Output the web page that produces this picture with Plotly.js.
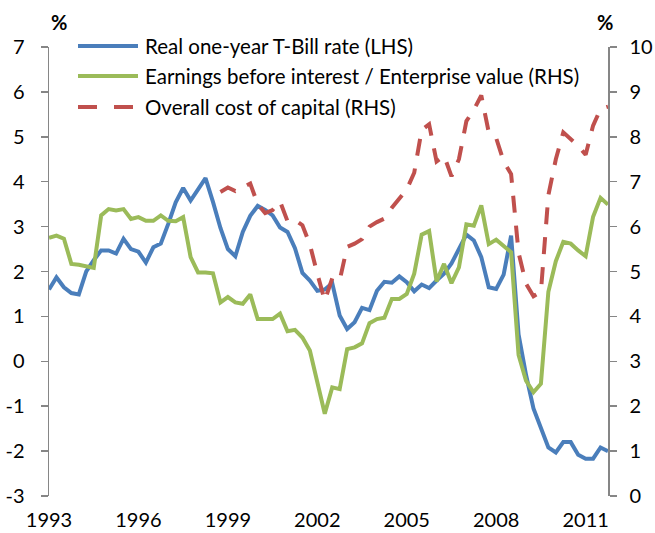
<!DOCTYPE html>
<html>
<head>
<meta charset="utf-8">
<script src="https://cdn.plot.ly/plotly-3.0.1.min.js"></script>
<style>html,body{margin:0;padding:0;background:#fff;}#chart{width:655px;height:533px;}</style>
</head>
<body>
<div id="chart"></div>
<script>
// Quarterly observations, 1993Q1 .. 2011Q4 (decimal years)
const quarters = [
  1993.00, 1993.25, 1993.50, 1993.75, 1994.00, 1994.25, 1994.50, 1994.75,
  1995.00, 1995.25, 1995.50, 1995.75, 1996.00, 1996.25, 1996.50, 1996.75,
  1997.00, 1997.25, 1997.50, 1997.75, 1998.00, 1998.25, 1998.50, 1998.75,
  1999.00, 1999.25, 1999.50, 1999.75, 2000.00, 2000.25, 2000.50, 2000.75,
  2001.00, 2001.25, 2001.50, 2001.75, 2002.00, 2002.25, 2002.50, 2002.75,
  2003.00, 2003.25, 2003.50, 2003.75, 2004.00, 2004.25, 2004.50, 2004.75,
  2005.00, 2005.25, 2005.50, 2005.75, 2006.00, 2006.25, 2006.50, 2006.75,
  2007.00, 2007.25, 2007.50, 2007.75, 2008.00, 2008.25, 2008.50, 2008.75,
  2009.00, 2009.25, 2009.50, 2009.75, 2010.00, 2010.25, 2010.50, 2010.75,
  2011.00, 2011.25, 2011.50, 2011.75
];

// Real one-year T-Bill rate (LHS, %)
const tbillRate = [
  1.60, 1.87, 1.65, 1.52, 1.49, 2.00, 2.25, 2.47, 2.47, 2.40,
  2.73, 2.50, 2.44, 2.20, 2.54, 2.62, 3.06, 3.54, 3.86, 3.58,
  3.83, 4.08, 3.55, 2.97, 2.50, 2.34, 2.88, 3.24, 3.46, 3.37,
  3.25, 2.98, 2.88, 2.52, 1.97, 1.80, 1.57, 1.60, 1.74, 1.02,
  0.72, 0.87, 1.19, 1.14, 1.57, 1.77, 1.75, 1.89, 1.76, 1.56,
  1.71, 1.63, 1.80, 1.95, 2.18, 2.50, 2.82, 2.69, 2.32, 1.65,
  1.61, 1.93, 2.80, 0.60, -0.30, -1.05, -1.47, -1.92, -2.03, -1.80,
  -1.80, -2.08, -2.17, -2.17, -1.92, -2.00
];

// Earnings before interest / Enterprise value (RHS, %)
const ebitToEv = [
  5.75, 5.80, 5.73, 5.17, 5.15, 5.11, 5.08, 6.25, 6.39, 6.36,
  6.39, 6.17, 6.21, 6.13, 6.13, 6.25, 6.13, 6.12, 6.21, 5.32,
  4.98, 4.98, 4.96, 4.31, 4.43, 4.31, 4.28, 4.49, 3.94, 3.94,
  3.94, 4.06, 3.67, 3.70, 3.53, 3.24, 2.50, 1.83, 2.42, 2.38,
  3.27, 3.31, 3.40, 3.85, 3.94, 3.97, 4.39, 4.39, 4.50, 4.95,
  5.82, 5.90, 4.78, 5.17, 4.74, 5.09, 6.05, 6.02, 6.47, 5.61,
  5.71, 5.58, 5.43, 3.14, 2.57, 2.31, 2.50, 4.55, 5.23, 5.66,
  5.62, 5.47, 5.34, 6.22, 6.64, 6.49
];

// Overall cost of capital (RHS, %), available from 1998Q4
const costOfCapital = [
  null, null, null, null, null, null, null, null, null, null,
  null, null, null, null, null, null, null, null, null, null,
  null, null, null, 6.77, 6.87, 6.79, 6.88, 6.96, 6.50, 6.30,
  6.37, 6.56, 6.12, 6.15, 6.03, 5.60, 4.95, 4.35, 4.85, 4.80,
  5.55, 5.62, 5.72, 6.00, 6.10, 6.18, 6.42, 6.63, 6.83, 7.20,
  8.15, 8.28, 7.45, 7.58, 7.12, 7.50, 8.35, 8.60, 8.92, 8.10,
  7.97, 7.45, 7.17, 5.42, 4.73, 4.45, 4.55, 6.70, 7.50, 8.10,
  7.95, 7.80, 7.60, 8.25, 8.62, 8.67
];

const seriesNames = [
  'Real one-year T-Bill rate (LHS)',
  'Earnings before interest / Enterprise value (RHS)',
  'Overall cost of capital (RHS)'
];
const seriesColors = ['#4A7EBB', '#9BBB59', '#C0504D'];

const yearTicks = [1993, 1996, 1999, 2002, 2005, 2008, 2011];
const yearLabels = ['1993', '1996', '1999', '2002', '2005', '2008', '2011'];
const lhsTicks = [-3, -2, -1, 0, 1, 2, 3, 4, 5, 6, 7];
const lhsLabels = ['-3', '-2', '-1', '0', '1', '2', '3', '4', '5', '6', '7'];
const rhsTicks = [0, 1, 2, 3, 4, 5, 6, 7, 8, 9, 10];
const rhsLabels = ['0', '1', '2', '3', '4', '5', '6', '7', '8', '9', '10'];

const axisGrey = '#868686';
const FONT = 'Lato, "Open Sans", sans-serif';

const traces = [
  {x: quarters, y: tbillRate, type: 'scatter', mode: 'lines', name: seriesNames[0],
   xaxis: 'x', yaxis: 'y', line: {color: seriesColors[0], width: 4}, hoverinfo: 'skip'},
  {x: quarters, y: ebitToEv, type: 'scatter', mode: 'lines', name: seriesNames[1],
   xaxis: 'x', yaxis: 'y2', line: {color: seriesColors[1], width: 4}, hoverinfo: 'skip'},
  {x: quarters, y: costOfCapital, type: 'scatter', mode: 'lines', name: seriesNames[2],
   xaxis: 'x', yaxis: 'y2', connectgaps: false,
   line: {color: seriesColors[2], width: 4, dash: '17px,13px'}, hoverinfo: 'skip'}
];

// Manual legend (long line samples as in the original)
const W = 655, H = 533, L = 49, R = 47, T = 47, B = 37;
const pw = W - L - R, ph = H - T - B;
const px = v => (v - L) / pw;
const py = v => (H - B - v) / ph;
const legendRows = [46, 76, 107];
const shapes = [];
const annotations = [];
legendRows.forEach((ry, i) => {
  shapes.push({
    type: 'line', xref: 'paper', yref: 'paper',
    x0: px(78), x1: px(i === 2 ? 133 : 138), y0: py(ry), y1: py(ry),
    line: {color: seriesColors[i], width: 4, dash: i === 2 ? '19px,17px' : 'solid'}
  });
  annotations.push({
    xref: 'paper', yref: 'paper', x: px(143), y: py(ry),
    xanchor: 'left', yanchor: 'middle', showarrow: false,
    text: seriesNames[i], font: {family: FONT, size: 20.5, color: '#000'}
  });
});
annotations.push({xref: 'paper', yref: 'paper', x: px(59), y: py(22), xanchor: 'center', yanchor: 'middle',
  showarrow: false, text: '<b>%</b>', font: {family: FONT, size: 20, color: '#000'}});
annotations.push({xref: 'paper', yref: 'paper', x: px(605), y: py(22), xanchor: 'center', yanchor: 'middle',
  showarrow: false, text: '<b>%</b>', font: {family: FONT, size: 20, color: '#000'}});

const layout = {
  width: W, height: H,
  margin: {l: L, r: R, t: T, b: B, pad: 0},
  paper_bgcolor: '#ffffff', plot_bgcolor: 'rgba(0,0,0,0)',
  font: {family: FONT, size: 20, color: '#000'},
  showlegend: false,
  xaxis: {range: [1993, 2011.75], tickmode: 'array', tickvals: yearTicks, ticktext: yearLabels,
          showgrid: false, zeroline: false, showline: false, ticks: '', automargin: false,
          ticklabelstandoff: 10, fixedrange: true},
  xaxis2: {overlaying: 'x', anchor: 'free', position: 0.3, range: [1993, 2011.75],
           tickmode: 'array', tickvals: yearTicks, showticklabels: false,
           ticks: 'outside', ticklen: 7, tickwidth: 1.5, tickcolor: axisGrey,
           showline: true, linecolor: axisGrey, linewidth: 1.5,
           showgrid: false, zeroline: false, automargin: false},
  yaxis: {range: [-3, 7], tickmode: 'array', tickvals: lhsTicks, ticktext: lhsLabels,
          ticks: 'outside', ticklen: 7, tickwidth: 1.5, tickcolor: axisGrey,
          showline: true, linecolor: axisGrey, linewidth: 1.5,
          showgrid: false, zeroline: false, automargin: false, ticklabelstandoff: 12},
  yaxis2: {overlaying: 'y', side: 'right', range: [0, 10], tickmode: 'array', tickvals: rhsTicks, ticktext: rhsLabels,
           ticks: 'outside', ticklen: 7, tickwidth: 1.5, tickcolor: axisGrey,
           showline: true, linecolor: axisGrey, linewidth: 1.5,
           showgrid: false, zeroline: false, automargin: false, ticklabelstandoff: 9},
  shapes: shapes,
  annotations: annotations
};

Plotly.newPlot('chart', traces, layout, {staticPlot: true, displayModeBar: false});
</script>
</body>
</html>
